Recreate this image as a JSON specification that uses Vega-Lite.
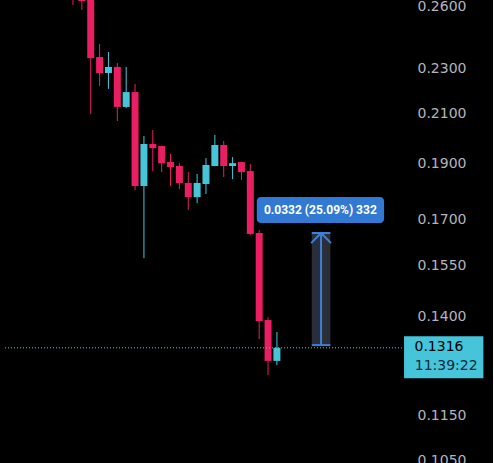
{
  "$schema": "https://vega.github.io/schema/vega-lite/v6.json",
  "width": 493,
  "height": 463,
  "padding": 0,
  "autosize": {"type": "none"},
  "background": "#000000",
  "config": {"view": {"stroke": null}},
  "datasets": {
    "candles": [
      {"t": 0, "o": 0.2750, "h": 0.2800, "l": 0.2610, "c": 0.2680, "dir": "down"},
      {"t": 1, "o": 0.2700, "h": 0.2740, "l": 0.2584, "c": 0.2630, "dir": "down"},
      {"t": 2, "o": 0.2680, "h": 0.2700, "l": 0.2099, "c": 0.2347, "dir": "down"},
      {"t": 3, "o": 0.2352, "h": 0.2414, "l": 0.2220, "c": 0.2278, "dir": "down"},
      {"t": 4, "o": 0.2278, "h": 0.2376, "l": 0.2207, "c": 0.2306, "dir": "up"},
      {"t": 5, "o": 0.2306, "h": 0.2324, "l": 0.2070, "c": 0.2129, "dir": "down"},
      {"t": 6, "o": 0.2129, "h": 0.2306, "l": 0.2124, "c": 0.2193, "dir": "up"},
      {"t": 7, "o": 0.2193, "h": 0.2229, "l": 0.1803, "c": 0.1818, "dir": "down"},
      {"t": 8, "o": 0.1818, "h": 0.2009, "l": 0.1574, "c": 0.1977, "dir": "up"},
      {"t": 9, "o": 0.1977, "h": 0.2033, "l": 0.1873, "c": 0.1961, "dir": "down"},
      {"t": 10, "o": 0.1969, "h": 0.1970, "l": 0.1869, "c": 0.1903, "dir": "down"},
      {"t": 11, "o": 0.1907, "h": 0.1938, "l": 0.1818, "c": 0.1888, "dir": "down"},
      {"t": 12, "o": 0.1892, "h": 0.1903, "l": 0.1807, "c": 0.1829, "dir": "down"},
      {"t": 13, "o": 0.1829, "h": 0.1869, "l": 0.1733, "c": 0.1778, "dir": "down"},
      {"t": 14, "o": 0.1778, "h": 0.1862, "l": 0.1757, "c": 0.1829, "dir": "up"},
      {"t": 15, "o": 0.1825, "h": 0.1922, "l": 0.1789, "c": 0.1896, "dir": "up"},
      {"t": 16, "o": 0.1892, "h": 0.2013, "l": 0.1891, "c": 0.1973, "dir": "up"},
      {"t": 17, "o": 0.1973, "h": 0.1989, "l": 0.1851, "c": 0.1892, "dir": "down"},
      {"t": 18, "o": 0.1892, "h": 0.1926, "l": 0.1843, "c": 0.1903, "dir": "up"},
      {"t": 19, "o": 0.1907, "h": 0.1908, "l": 0.1840, "c": 0.1869, "dir": "down"},
      {"t": 20, "o": 0.1873, "h": 0.1899, "l": 0.1648, "c": 0.1652, "dir": "down"},
      {"t": 21, "o": 0.1655, "h": 0.1665, "l": 0.1339, "c": 0.1388, "dir": "down"},
      {"t": 22, "o": 0.1391, "h": 0.1399, "l": 0.1246, "c": 0.1282, "dir": "down"},
      {"t": 23, "o": 0.1282, "h": 0.1358, "l": 0.1271, "c": 0.1316, "dir": "up"}
    ],
    "toolBox": [{"t0": 26.93, "t1": 29.03, "p0": 0.1323, "p1": 0.1655}],
    "toolLines": [
      {"seg": "top", "k": 0, "t": 26.93, "p": 0.1655},
      {"seg": "top", "k": 1, "t": 29.03, "p": 0.1655},
      {"seg": "bot", "k": 0, "t": 26.93, "p": 0.1323},
      {"seg": "bot", "k": 1, "t": 29.03, "p": 0.1323},
      {"seg": "v", "k": 0, "t": 27.98, "p": 0.1323},
      {"seg": "v", "k": 1, "t": 27.98, "p": 0.1655},
      {"seg": "arrow", "k": 0, "t": 26.86, "p": 0.1622},
      {"seg": "arrow", "k": 1, "t": 27.98, "p": 0.1655},
      {"seg": "arrow", "k": 2, "t": 29.10, "p": 0.1622}
    ],
    "toolLabelBox": [{"t0": 20.73, "t1": 35.09, "p0": 0.16882, "p1": 0.17782}],
    "toolLabel": [{"t": 27.9, "p": 0.17326, "label": "0.0332 (25.09%) 332"}],
    "lastLine": [{"t0": -7.67, "t1": 37.34, "p": 0.1316}],
    "priceBox": [{"t0": 37.34, "t1": 46.29, "p0": 0.12386, "p1": 0.13470}],
    "priceText": [{"t": 38.52, "p": 0.1317, "label": "0.1316", "kind": "price"}],
    "timeText": [{"t": 38.55, "p": 0.12687, "label": "11:39:22", "kind": "time"}]
  },
  "encoding": {
    "x": {"field": "t", "type": "quantitative", "scale": {"domain": [-7.67, 46.81], "nice": false, "zero": false}, "axis": null}
  },
  "layer": [
    {
      "data": {"name": "toolBox"},
      "mark": {"type": "rect", "fill": "#2a2e39"},
      "encoding": {
        "x": {"field": "t0", "type": "quantitative"},
        "x2": {"field": "t1"},
        "y": {"field": "p0", "type": "quantitative", "scale": {"type": "log", "domain": [0.10455, 0.26358], "nice": false, "zero": false},
          "axis": {"orient": "right", "values": [0.105, 0.115, 0.125, 0.14, 0.155, 0.17, 0.19, 0.21, 0.23, 0.26], "format": ".4f", "title": null, "grid": false, "ticks": false, "tickSize": 0, "domain": true, "domainColor": "#2a2a2e", "domainWidth": 1, "labelPadding": -76, "labelAlign": "left", "labelColor": "#b2b5be", "labelFont": "DejaVu Sans", "labelFontSize": 14, "labelOverlap": false, "labelBound": false, "labelFlush": false}},
        "y2": {"field": "p1"}
      }
    },
    {
      "data": {"name": "candles"},
      "mark": {"type": "rule", "strokeWidth": 1},
      "encoding": {
        "y": {"field": "l", "type": "quantitative"},
        "y2": {"field": "h"},
        "color": {"field": "dir", "type": "nominal", "scale": {"domain": ["down", "up"], "range": ["#e91e63", "#48c4d8"]}, "legend": null}
      }
    },
    {
      "data": {"name": "candles"},
      "mark": {"type": "bar", "size": 7},
      "encoding": {
        "y": {"field": "o", "type": "quantitative"},
        "y2": {"field": "c"},
        "color": {"field": "dir", "type": "nominal", "legend": null}
      }
    },
    {
      "data": {"name": "toolLines"},
      "mark": {"type": "line", "stroke": "#3d7fdc", "strokeWidth": 2},
      "encoding": {
        "y": {"field": "p", "type": "quantitative"},
        "detail": {"field": "seg", "type": "nominal"},
        "order": {"field": "k", "type": "quantitative"}
      }
    },
    {
      "data": {"name": "toolLabelBox"},
      "mark": {"type": "rect", "fill": "#3179d2", "cornerRadius": 4},
      "encoding": {
        "x": {"field": "t0", "type": "quantitative"},
        "x2": {"field": "t1"},
        "y": {"field": "p0", "type": "quantitative"},
        "y2": {"field": "p1"}
      }
    },
    {
      "data": {"name": "toolLabel"},
      "mark": {"type": "text", "color": "#ffffff", "font": "Roboto", "fontSize": 12, "fontWeight": "bold", "align": "center", "baseline": "middle"},
      "encoding": {
        "y": {"field": "p", "type": "quantitative"},
        "text": {"field": "label"}
      }
    },
    {
      "data": {"name": "lastLine"},
      "mark": {"type": "rule", "stroke": "#4fc6dc", "strokeWidth": 1, "strokeDash": [1, 2]},
      "encoding": {
        "x": {"field": "t0", "type": "quantitative"},
        "x2": {"field": "t1"},
        "y": {"field": "p", "type": "quantitative"}
      }
    },
    {
      "data": {"name": "priceBox"},
      "mark": {"type": "rect", "fill": "#45c4da"},
      "encoding": {
        "x": {"field": "t0", "type": "quantitative"},
        "x2": {"field": "t1"},
        "y": {"field": "p0", "type": "quantitative"},
        "y2": {"field": "p1"}
      }
    },
    {
      "data": {"name": "priceText"},
      "mark": {"type": "text", "color": "#000000", "font": "DejaVu Sans", "fontSize": 14, "align": "left", "baseline": "middle"},
      "encoding": {
        "y": {"field": "p", "type": "quantitative"},
        "text": {"field": "label"}
      }
    },
    {
      "data": {"name": "timeText"},
      "mark": {"type": "text", "color": "#0e2a36", "font": "DejaVu Sans", "fontSize": 14, "align": "left", "baseline": "middle"},
      "encoding": {
        "y": {"field": "p", "type": "quantitative"},
        "text": {"field": "label"}
      }
    }
  ]
}
